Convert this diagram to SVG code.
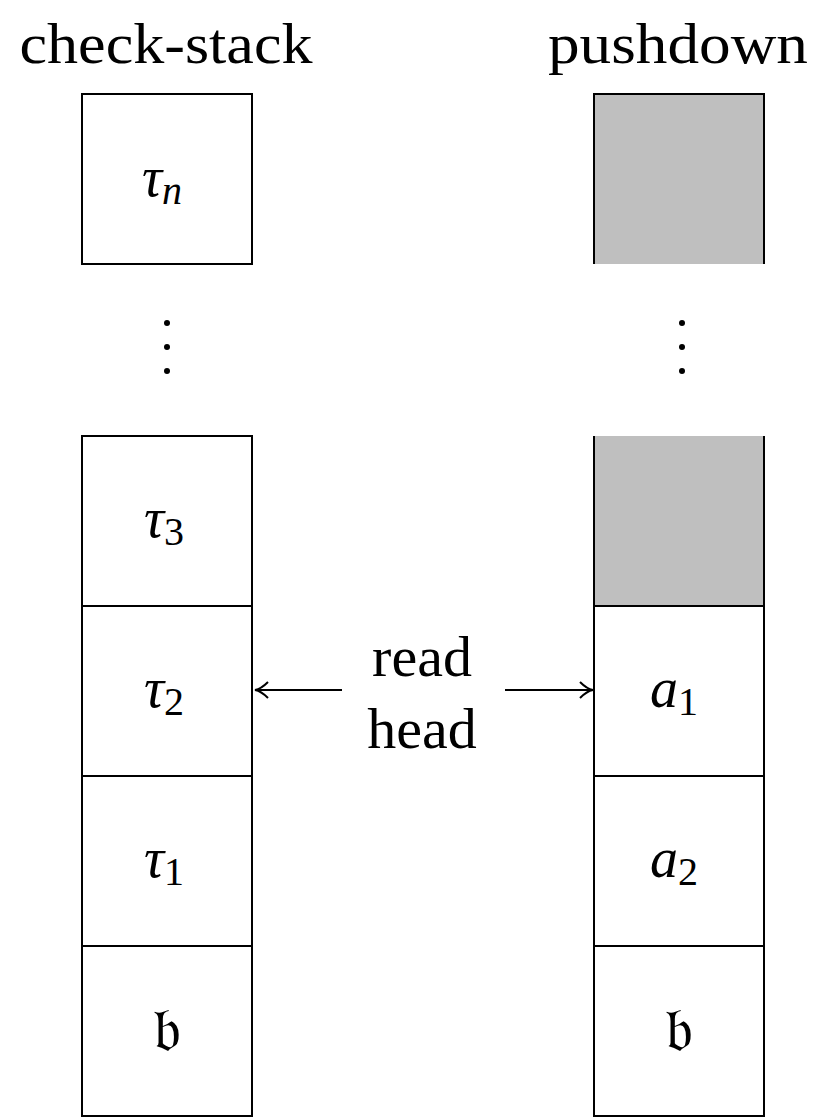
<svg xmlns="http://www.w3.org/2000/svg" width="830" height="1119" viewBox="0 0 830 1119">
<style>
.cell{fill:#fff;stroke:#000;stroke-width:2}
.grey{fill:#bfbfbf;stroke:none}
.edge{stroke:#000;stroke-width:2;fill:none}
.t{font-family:"Liberation Serif",serif;font-size:58px;fill:#000;text-anchor:middle}
.m{font-family:"Liberation Serif",serif;font-style:italic;font-size:56px;fill:#000;text-anchor:middle}
.sub{font-style:normal;font-size:40px}
.subi{font-size:40px}
.fr{font-family:"DejaVu Serif","DejaVu Sans",serif;font-size:62px;fill:#000;text-anchor:middle}
.conn{stroke:#000;stroke-width:2;fill:none}
</style>
<defs>
<marker id="ah" viewBox="0 0 16 20" refX="15" refY="10" markerWidth="16" markerHeight="20" markerUnits="userSpaceOnUse" orient="auto">
<path d="M2,2 Q9,9 15,10 Q9,11 2,18" fill="none" stroke="#000" stroke-width="2"/>
</marker>
</defs>
<g id="titles">
<text class="t" x="166" y="63" textLength="293" lengthAdjust="spacingAndGlyphs">check-stack</text>
<text class="t" x="678" y="63" textLength="260" lengthAdjust="spacingAndGlyphs">pushdown</text>
</g>
<g id="left-stack">
<g id="cell-tn"><rect class="cell" x="82" y="94" width="170" height="170"/><text class="m" x="162" y="196">τ<tspan class="subi" dy="8">n</tspan></text></g>
<g id="dots-left"><circle cx="167" cy="323" r="3"/><circle cx="167" cy="347" r="3"/><circle cx="167" cy="371" r="3"/></g>
<g id="cell-t3"><rect class="cell" x="82" y="436" width="170" height="170"/><text class="m" x="164" y="537">τ<tspan class="sub" dy="8">3</tspan></text></g>
<g id="cell-t2"><rect class="cell" x="82" y="606" width="170" height="170"/><text class="m" x="164" y="707">τ<tspan class="sub" dy="8">2</tspan></text></g>
<g id="cell-t1"><rect class="cell" x="82" y="776" width="170" height="170"/><text class="m" x="164" y="877">τ<tspan class="sub" dy="8">1</tspan></text></g>
<g id="cell-bl"><rect class="cell" x="82" y="946" width="170" height="170"/><text class="fr" x="167" y="1050">𝔟</text></g>
</g>
<g id="right-stack">
<g id="cell-g1"><rect class="grey" x="594" y="94" width="170" height="170"/><path class="edge" d="M594,264 V94 H764 V264"/></g>
<g id="dots-right"><circle cx="682" cy="323" r="3"/><circle cx="682" cy="347" r="3"/><circle cx="682" cy="371" r="3"/></g>
<g id="cell-g2"><rect class="grey" x="594" y="436" width="170" height="170"/><path class="edge" d="M594,436 V606 H764 V436"/></g>
<g id="cell-a1"><rect class="cell" x="594" y="606" width="170" height="170"/><text class="m" x="674" y="707">a<tspan class="sub" dy="8">1</tspan></text></g>
<g id="cell-a2"><rect class="cell" x="594" y="776" width="170" height="170"/><text class="m" x="674" y="877">a<tspan class="sub" dy="8">2</tspan></text></g>
<g id="cell-br"><rect class="cell" x="594" y="946" width="170" height="170"/><text class="fr" x="679" y="1050">𝔟</text></g>
</g>
<g id="read-head">
<text class="t" x="422" y="676">read</text>
<text class="t" x="422" y="748">head</text>
</g>
<g id="connectors">
<line class="conn" x1="342" y1="690" x2="255" y2="690" marker-end="url(#ah)"/>
<line class="conn" x1="505" y1="690" x2="593" y2="690" marker-end="url(#ah)"/>
</g>
</svg>
